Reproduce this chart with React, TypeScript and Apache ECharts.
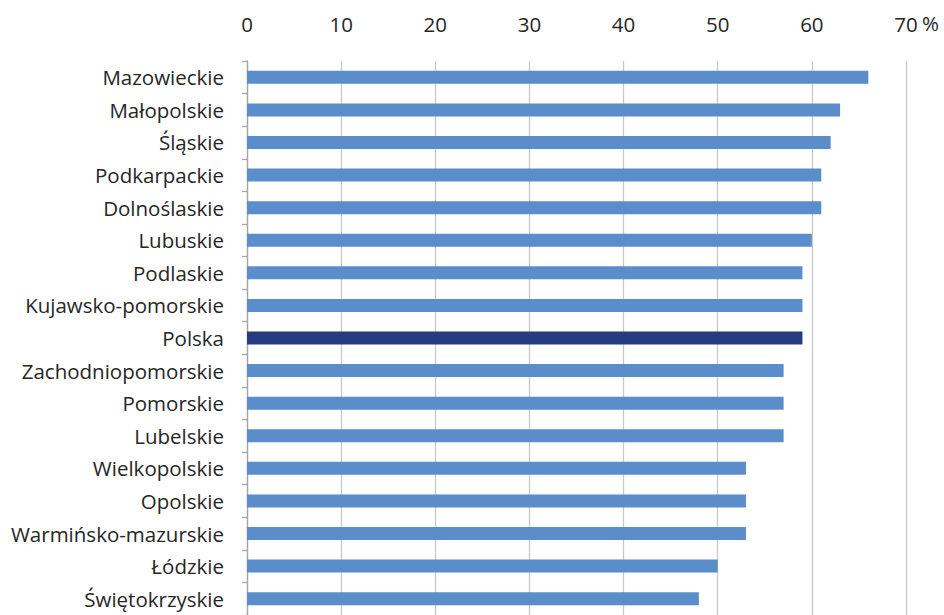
import React, { useEffect, useRef } from "react";
import * as echarts from "echarts";

const regions = [
  "Mazowieckie",
  "Małopolskie",
  "Śląskie",
  "Podkarpackie",
  "Dolnoślaskie",
  "Lubuskie",
  "Podlaskie",
  "Kujawsko-pomorskie",
  "Polska",
  "Zachodniopomorskie",
  "Pomorskie",
  "Lubelskie",
  "Wielkopolskie",
  "Opolskie",
  "Warmińsko-mazurskie",
  "Łódzkie",
  "Świętokrzyskie",
];
const values = [66, 63, 62, 61, 61, 60, 59, 59, 59, 57, 57, 57, 53, 53, 53, 50, 48];
const highlight = "Polska";
const unitLabel = "%";

const FONT = "Open Sans";
const FS = 20.5;

export default function App() {
  const ref = useRef<HTMLDivElement>(null);
  useEffect(() => {
    if (!ref.current) return;
    const chart = echarts.init(ref.current, null, { renderer: "svg" });
    chart.setOption({
      animation: false,
      grid: { left: 247, top: 61, width: 659, height: 557.6, containLabel: false },
      xAxis: {
        type: "value",
        position: "top",
        min: 0,
        max: 70,
        interval: 10,
        axisLine: { show: false },
        axisTick: { show: false },
        axisLabel: { color: "#262626", fontFamily: FONT, fontSize: FS, margin: 27 },
        splitLine: { lineStyle: { color: "#c8c8c8", width: 1.3 } },
      },
      yAxis: {
        type: "category",
        inverse: true,
        data: regions,
        axisLine: { lineStyle: { color: "#a6a6a6", width: 1.3 } },
        axisTick: { show: true, length: 5, lineStyle: { color: "#a6a6a6", width: 1.3 } },
        axisLabel: { color: "#262626", fontFamily: FONT, fontSize: FS, margin: 23 },
      },
      graphic: [
        {
          type: "text",
          left: 922,
          top: 12,
          style: { text: unitLabel, fill: "#262626", font: `${FS}px "${FONT}"` },
        },
      ],
      series: [
        {
          type: "bar",
          barWidth: 13,
          data: regions.map((r, i) => ({
            value: values[i],
            itemStyle: { color: r === highlight ? "#273B81" : "#5A8DCA" },
          })),
        },
      ],
    });
    return () => chart.dispose();
  }, []);
  return (
    <div
      ref={ref}
      style={{ position: "absolute", left: 0, top: 0, width: 944, height: 615, background: "#fff" }}
    />
  );
}
